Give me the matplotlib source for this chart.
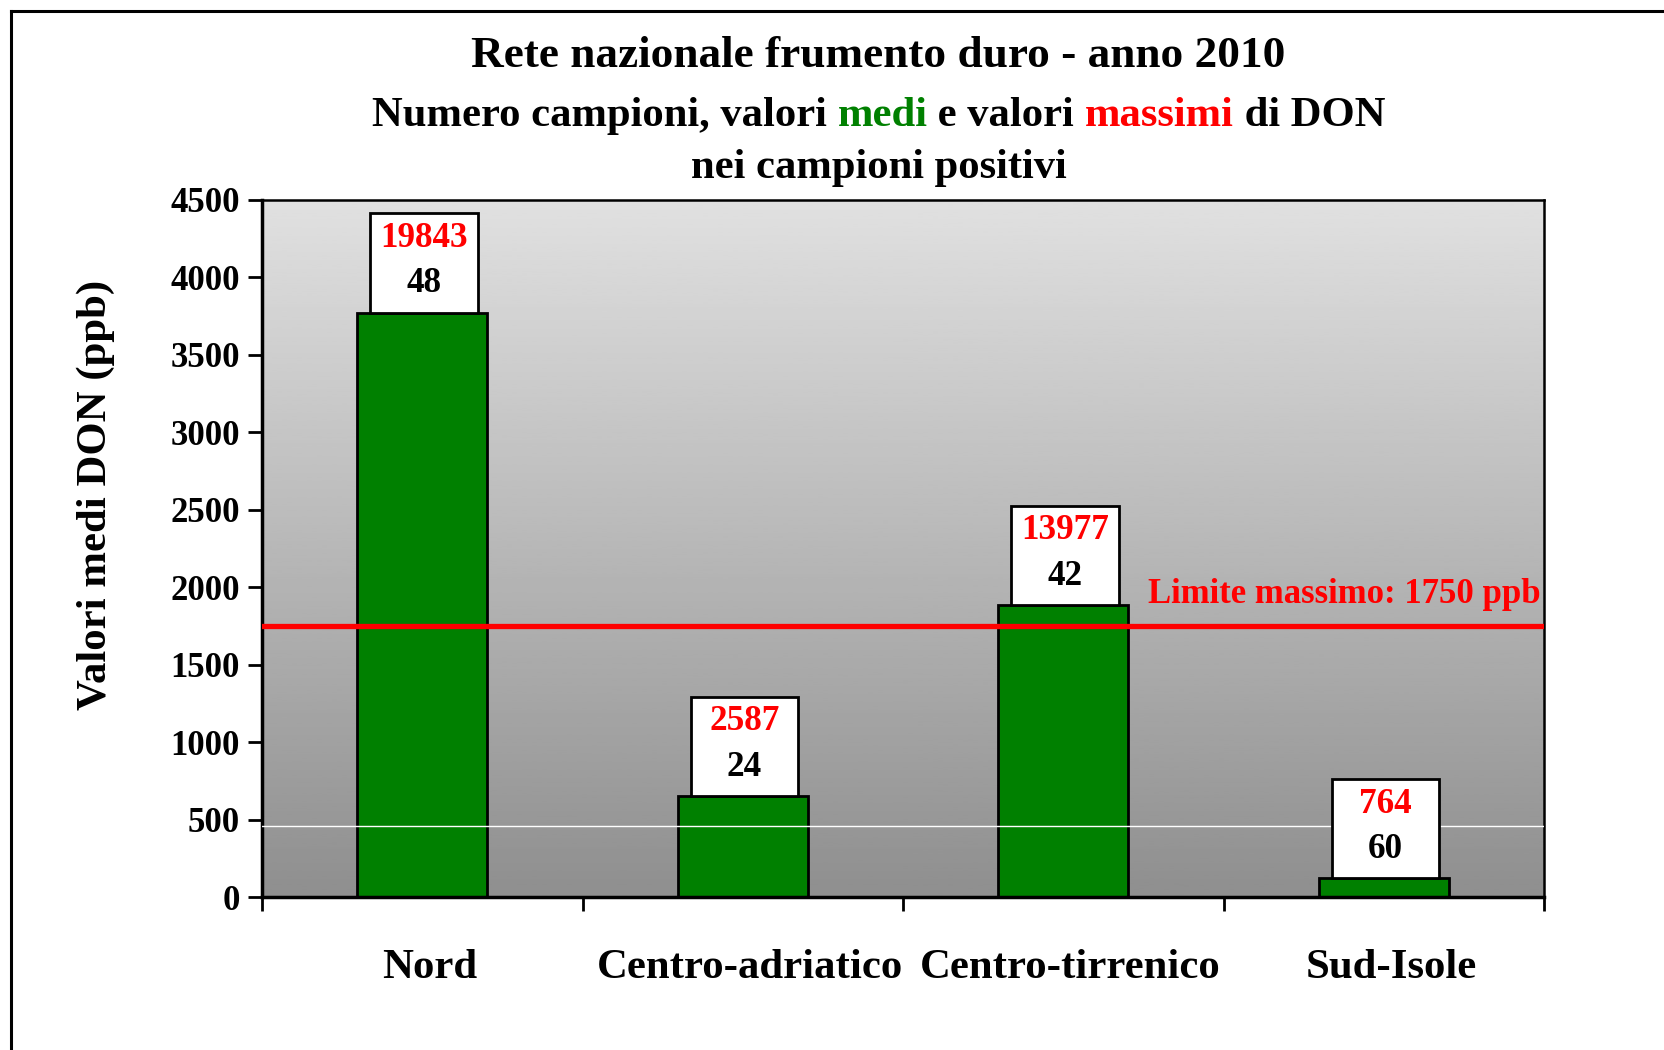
import numpy as np
import matplotlib
matplotlib.use("Agg")
from matplotlib import pyplot as plt
from matplotlib.patches import Rectangle
from matplotlib.lines import Line2D

categories = ["Nord", "Centro-adriatico", "Centro-tirrenico", "Sud-Isole"]
mean_don = [3770, 650, 1885, 120]
max_don = [19843, 2587, 13977, 764]
n_samples = [48, 24, 42, 60]
limit = 1750
yticks = [0, 500, 1000, 1500, 2000, 2500, 3000, 3500, 4000, 4500]

plt.rcParams['font.family'] = ['Liberation Serif', 'DejaVu Serif']
plt.rcParams['font.weight'] = 'bold'

GREEN = "#008000"
RED = "#ff0000"

fig = plt.figure(figsize=(16.64, 10.5), dpi=100)
ax = fig.add_axes([0.1575, 0.1457, 0.7705, 0.6643])

x = np.arange(len(categories))
ax.set_xlim(-0.5, len(categories) - 0.5)
ax.set_ylim(0, 4500)

# grey gradient background
grad = np.linspace(0.56, 0.88, 256).reshape(-1, 1)
ax.imshow(grad, cmap="gray", vmin=0, vmax=1, origin="lower", aspect="auto",
          extent=[-0.5, len(categories) - 0.5, 0, 4500], zorder=0)

ax.bar(x, mean_don, width=0.405, color=GREEN, edgecolor="black", linewidth=2, zorder=2)
ax.axhline(460, color="white", lw=1, zorder=3)
ax.axhline(limit, color=RED, lw=3.8, zorder=5)

box_w, box_h = 0.335, 640
for xi, m, mx, n in zip(x, mean_don, max_don, n_samples):
    ax.add_patch(Rectangle((xi + 0.005 - box_w / 2, m), box_w, box_h, facecolor="white",
                           edgecolor="black", lw=2, zorder=4))
    ax.text(xi + 0.005, m + box_h * 0.75, str(mx), color=RED, fontsize=25.3,
            ha="center", va="center", zorder=6)
    ax.text(xi + 0.005, m + box_h * 0.29, str(n), color="black", fontsize=25.3,
            ha="center", va="center", zorder=6)

ax.text(len(categories) - 0.51, limit + 95, "Limite massimo: 1750 ppb", color=RED,
        fontsize=25, ha="right", va="bottom", zorder=6)

ax.set_yticks(yticks)
ax.set_yticklabels([str(t) for t in yticks], fontsize=25, fontweight="bold")
ax.set_xticks(np.arange(-0.5, len(categories), 1.0))
ax.set_xticklabels([])
ax.tick_params(axis="y", direction="out", length=10, width=2, pad=6)
ax.tick_params(axis="x", direction="out", length=10, width=2)
for xi, c in zip(x, categories):
    ax.text(xi + 0.022, -460, c, fontsize=30.8, ha="center", va="center", clip_on=False)

for side in ["left", "bottom"]:
    ax.spines[side].set_linewidth(2.5)
for side in ["top", "right"]:
    ax.spines[side].set_linewidth(1.8)

fig.text(0.0575, 0.529, "Valori medi DON (ppb)", rotation=90,
         fontsize=30.8, ha="center", va="center")

# titles
cx = 0.528
fig.text(cx, 1 - 56 / 1050, "Rete nazionale frumento duro - anno 2010",
         fontsize=32.6, ha="center", va="center")
fig.text(cx, 1 - 168 / 1050, "nei campioni positivi", fontsize=30.7, ha="center", va="center")

parts = [("Numero campioni, valori ", "black"), ("medi", GREEN), (" e valori ", "black"),
         ("massimi", RED), (" di DON", "black")]
renderer = fig.canvas.get_renderer()
texts = [fig.text(0, 1 - 116 / 1050, p, color=c, fontsize=30.7, ha="left", va="center")
         for p, c in parts]
widths = [t.get_window_extent(renderer).width for t in texts]
total = sum(widths)
start = cx * fig.bbox.width - total / 2
for t, w in zip(texts, widths):
    t.set_x(start / fig.bbox.width)
    start += w

# outer frame (top and left edges)
fig.add_artist(Line2D([11 / 1664, 1], [1 - 11 / 1050] * 2, color="black", lw=2.2))
fig.add_artist(Line2D([11 / 1664] * 2, [0, 1 - 11 / 1050], color="black", lw=2.2))

fig.savefig("out.png", dpi=100)
